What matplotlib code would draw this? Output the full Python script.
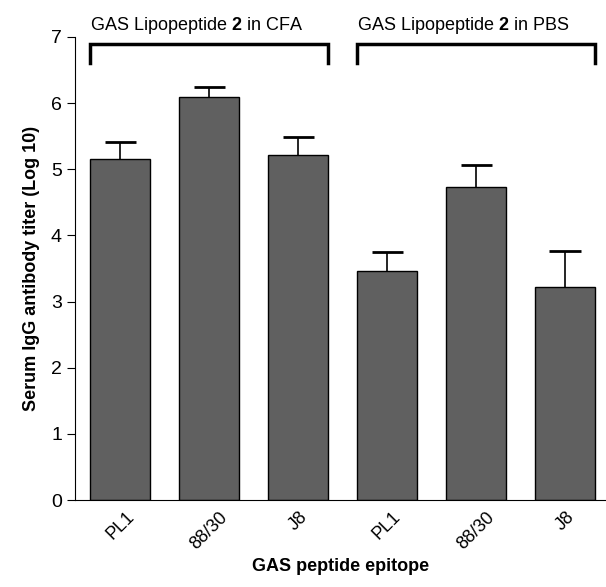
import numpy as np
import matplotlib
matplotlib.use("Agg")
import matplotlib.pyplot as plt

plt.rcParams['font.family'] = ['Liberation Sans', 'DejaVu Sans']
plt.rcParams['mathtext.fontset'] = 'custom'
plt.rcParams['mathtext.rm'] = 'Liberation Sans'
plt.rcParams['mathtext.bf'] = 'Liberation Sans:bold'

# data
epitopes = ["PL1", "88/30", "J8", "PL1", "88/30", "J8"]
titers = [5.15, 6.10, 5.21, 3.47, 4.74, 3.22]
sem = [0.27, 0.14, 0.28, 0.28, 0.33, 0.54]
groups = ["CFA", "PBS"]

fig = plt.figure(figsize=(6.06, 5.87), dpi=100)
ax = fig.add_axes([0.124, 0.148, 0.876, 0.789])

x = np.arange(len(epitopes))
w = 0.67
ax.bar(x, titers, width=w, color="#606060", edgecolor="black", linewidth=1, zorder=2)
tops = np.array(titers) + np.array(sem)
ax.vlines(x, titers, tops, color="black", lw=1.2, zorder=1)
ax.hlines(tops, x - 0.175, x + 0.175, color="black", lw=2, zorder=1)

ax.set_xlim(-0.506, 5.46)
ax.set_ylim(0, 7)
ax.set_yticks(range(0, 8))
ax.tick_params(axis="y", labelsize=14, length=6, direction="out")
ax.set_xticks(x)
ax.set_xticklabels(epitopes, rotation=45, fontsize=13, ha="center", va="top")
ax.tick_params(axis="x", length=0, pad=6)
for s in ["top", "right"]:
    ax.spines[s].set_visible(False)

ax.set_ylabel("Serum IgG antibody titer (Log 10)", fontsize=13, fontweight="bold", labelpad=8)
ax.set_xlabel("GAS peptide epitope", fontsize=13, fontweight="bold", labelpad=4)

# group brackets above bars
for i, g in enumerate(groups):
    x0 = 3 * i - w / 2
    x1 = 3 * i + 2 + w / 2
    ax.plot([x0, x0, x1, x1], [6.61, 6.9, 6.9, 6.61], color="black", lw=2.5,
            clip_on=False, solid_joinstyle="miter")
    ax.text(x0, 7.1, "GAS Lipopeptide $\\mathbf{2}$ in " + g, fontsize=13,
            ha="left", va="baseline", clip_on=False)

fig.savefig("out.png", dpi=100)
